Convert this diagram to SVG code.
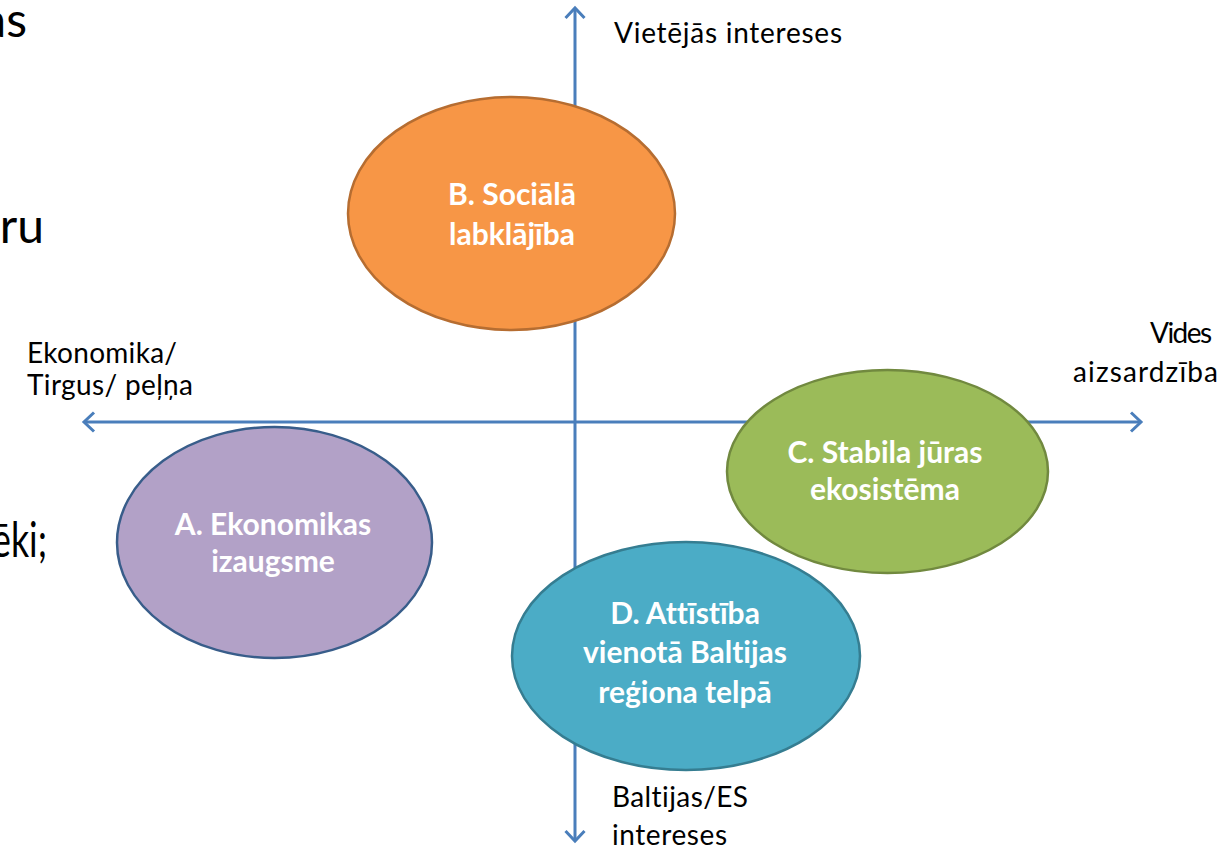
<svg xmlns="http://www.w3.org/2000/svg" width="1224" height="849" viewBox="0 0 1224 849">
<style>
text{font-variant-ligatures:none}
.frag{font-family:Lato,"Liberation Sans",sans-serif;font-size:48px;fill:#000}
.ax{font-family:Lato,"Liberation Sans",sans-serif;font-size:28px;fill:#000}
.nt{font-family:Lato,"Liberation Sans",sans-serif;font-size:30px;font-weight:bold;fill:#fff;text-anchor:middle}
.axis{stroke:#4A7EBB;stroke-width:3;fill:none}
</style>
<defs>
<marker id="arr" viewBox="0 0 24 24" refX="20" refY="12" markerWidth="24" markerHeight="24" markerUnits="userSpaceOnUse" orient="auto-start-reverse">
<path d="M10,2.5 L20,12 L10,21.5" fill="none" stroke="#4A7EBB" stroke-width="3"/>
</marker>
</defs>
<rect width="1224" height="849" fill="#fff"/>
<g id="fragments">
<text class="frag" x="27" y="37" text-anchor="end">as</text>
<text class="frag" x="44" y="243" text-anchor="end">ru</text>
<text class="frag" x="-8" y="557" textLength="55" lengthAdjust="spacingAndGlyphs">ēki;</text>
</g>
<g id="connectors">
<line class="axis" x1="84" y1="422" x2="1141" y2="422" marker-start="url(#arr)" marker-end="url(#arr)"/>
<line class="axis" x1="575" y1="8" x2="575" y2="841" marker-start="url(#arr)" marker-end="url(#arr)"/>
</g>
<g id="axis-labels">
<text class="ax" x="614" y="43" textLength="228">Vietējās intereses</text>
<text class="ax" x="27" y="363" textLength="150">Ekonomika/</text>
<text class="ax" x="27" y="395" textLength="166">Tirgus/ peļņa</text>
<text class="ax" x="1150" y="343" textLength="62">Vides</text>
<text class="ax" x="1073" y="382" textLength="145">aizsardzība</text>
<text class="ax" x="612" y="807" textLength="136">Baltijas/ES</text>
<text class="ax" x="612" y="845" textLength="115">intereses</text>
</g>
<g id="node-B">
<ellipse cx="511.5" cy="213.5" rx="163.5" ry="116.5" fill="#F79646" stroke="#B66D31" stroke-width="2.5"/>
<text class="nt" x="512" y="205">B. Sociālā</text>
<text class="nt" x="512" y="245">labklājība</text>
</g>
<g id="node-A">
<ellipse cx="274.5" cy="542.5" rx="157.5" ry="115.5" fill="#B2A1C7" stroke="#385D8A" stroke-width="2.5"/>
<text class="nt" x="273" y="535">A. Ekonomikas</text>
<text class="nt" x="273" y="572">izaugsme</text>
</g>
<g id="node-C">
<ellipse cx="887.5" cy="471.5" rx="160.5" ry="101.5" fill="#9BBB59" stroke="#71893F" stroke-width="2.5"/>
<text class="nt" x="885" y="463">C. Stabila jūras</text>
<text class="nt" x="885" y="500">ekosistēma</text>
</g>
<g id="node-D">
<ellipse cx="686" cy="656" rx="174" ry="114" fill="#4BACC6" stroke="#357D91" stroke-width="2.5"/>
<text class="nt" x="685" y="624">D. Attīstība</text>
<text class="nt" x="685" y="663">vienotā Baltijas</text>
<text class="nt" x="685" y="703">reģiona telpā</text>
</g>
</svg>
